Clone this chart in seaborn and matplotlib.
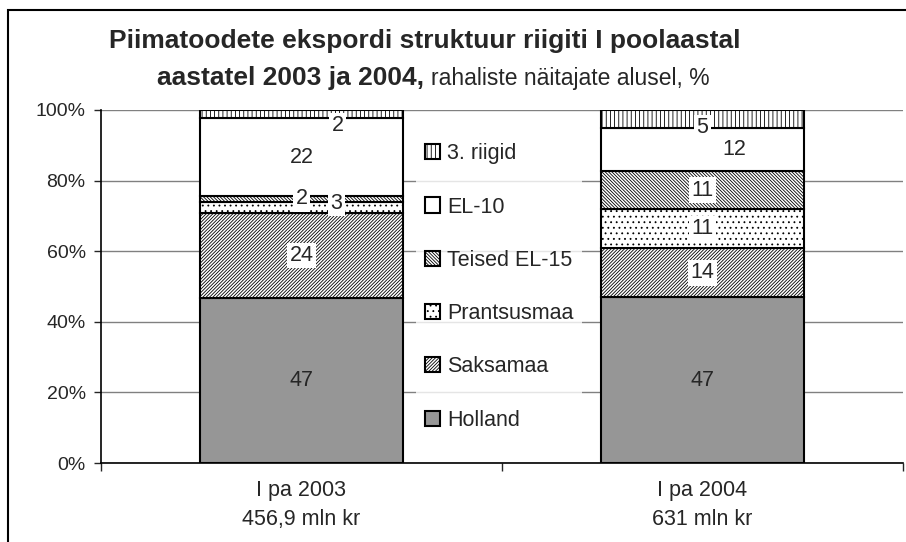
import numpy as np
import matplotlib
matplotlib.use("Agg")
import matplotlib.pyplot as plt
import seaborn as sns
from matplotlib.patches import Rectangle
from matplotlib.ticker import FixedLocator, PercentFormatter

categories = ["I pa 2003\n456,9 mln kr", "I pa 2004\n631 mln kr"]
series = ["Holland", "Saksamaa", "Prantsusmaa", "Teised EL-15", "EL-10", "3. riigid"]
holland = [46.7, 46.9]
saksamaa = [24.2, 13.9]
prantsusmaa = [3.1, 11.1]
teised_el15 = [1.6, 10.8]
el10 = [22.0, 12.1]
kolmandad = [2.4, 5.2]
shown_labels = [[47, 47], [24, 14], [3, 11], [2, 11], [22, 12], [2, 5]]

values = [holland, saksamaa, prantsusmaa, teised_el15, el10, kolmandad]
fills = ["#969696", "white", "white", "white", "white", "white"]
hatches = [None, "/" * 10, "...", "\\" * 10, None, "||||"]
# pixel offsets for labels that Excel pushed aside (x right, y up)
label_shift = {(5, 0): (36, -11), (2, 0): (35, 4), (4, 1): (32, 0), (5, 1): (0, -8)}

sns.set_style("white")
plt.rcParams["font.family"] = ["Liberation Sans", "DejaVu Sans"]
plt.rcParams["hatch.linewidth"] = 0.6

fs = 15.5

fig = plt.figure(figsize=(9.06, 5.42), dpi=100)
ax = fig.add_axes([101 / 906, 1 - 463 / 542, 802 / 906, 353 / 542])

bottom = np.zeros(len(categories))
for i, (name, vals) in enumerate(zip(series, values)):
    sns.barplot(x=categories, y=vals, bottom=bottom, color=fills[i], hatch=hatches[i],
                edgecolor="black", linewidth=1.5, width=0.507, saturation=1,
                errorbar=None, ax=ax, zorder=3)
    for j, v in enumerate(vals):
        dx, dy = label_shift.get((i, j), (0, 0))
        box = None if i == 0 else dict(facecolor="white", edgecolor="none", pad=1.5)
        ax.annotate(str(shown_labels[i][j]), (j, bottom[j] + v / 2),
                    xytext=(dx, dy), textcoords="offset pixels",
                    ha="center", va="center", fontsize=fs, zorder=5, bbox=box)
    bottom += np.array(vals)

ax.set_xlim(-0.5, 1.5)
ax.set_ylim(0, 100)
ax.yaxis.set_major_locator(FixedLocator([0, 20, 40, 60, 80, 100]))
ax.yaxis.set_major_formatter(PercentFormatter(decimals=0))
ax.grid(axis="y", color="#808080", linewidth=1, zorder=0)
ax.set_axisbelow(True)
for s in ["top", "right"]:
    ax.spines[s].set_visible(False)
for s in ["left", "bottom"]:
    ax.spines[s].set_color("black")
    ax.spines[s].set_linewidth(1.2)
ax.tick_params(axis="y", which="major", left=True, length=5, width=1, pad=6, labelsize=14)
ax.tick_params(axis="x", which="major", length=0, pad=12, labelsize=fs)
ax.xaxis.set_minor_locator(FixedLocator([-0.5, 0.5, 1.5]))
ax.tick_params(axis="x", which="minor", bottom=True, length=6, width=1)
for t in ax.get_xticklabels():
    t.set_linespacing(1.5)
ax.set_xlabel("")
ax.set_ylabel("")

handles = ax.containers[::-1]
leg = fig.legend(handles, series[::-1], loc="center left",
                 bbox_to_anchor=(416 / 906, 1 - 287 / 542),
                 bbox_transform=fig.transFigure, frameon=True, fontsize=fs,
                 labelspacing=1.5, handlelength=0.7, handleheight=0.7, handletextpad=0.35,
                 borderpad=0.4, borderaxespad=0, fancybox=False)
leg.get_frame().set_facecolor("white")
leg.get_frame().set_edgecolor("none")
leg.set_zorder(4)

fig.text(425 / 906, 1 - 41 / 542, "Piimatoodete ekspordi struktuur riigiti I poolaastal",
         ha="center", va="center", fontsize=19, fontweight="bold")
fig.text(424 / 906, 1 - 78 / 542, "aastatel 2003 ja 2004,", ha="right", va="center",
         fontsize=19, fontweight="bold")
fig.text(431 / 906, 1 - 78 / 542, "rahaliste näitajate alusel, %", ha="left", va="center",
         fontsize=16.5)

fig.add_artist(Rectangle((8 / 906, -0.2), 1.2, 1.2 - 10 / 542, transform=fig.transFigure,
                         fill=False, edgecolor="black", linewidth=1.5))

fig.savefig("out.png", dpi=100)
